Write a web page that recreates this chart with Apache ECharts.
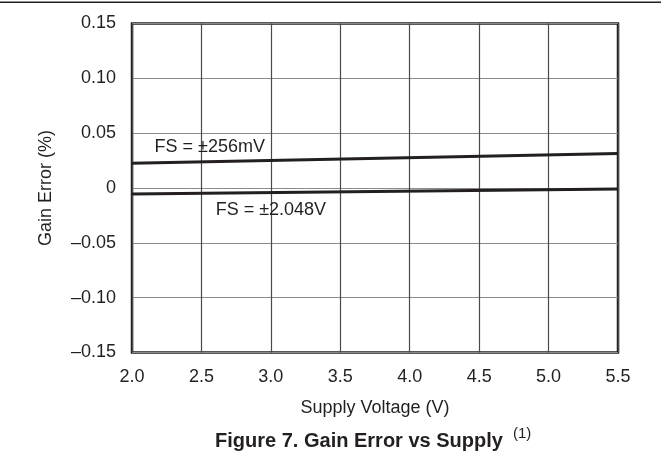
<!DOCTYPE html>
<html>
<head>
<meta charset="utf-8">
<script src="https://cdn.jsdelivr.net/npm/echarts@6/dist/echarts.min.js"></script>
<style>
  html, body { margin: 0; padding: 0; background: #ffffff; }
  #chart { width: 661px; height: 453px; }
</style>
</head>
<body>
<div id="chart"></div>
<script>
// Supply voltage end points (V) and measured gain error (%) for each full-scale range
const supplyVoltage = [2.0, 5.5];
const gainError256mV = [0.0225, 0.0315];
const gainError2048V = [-0.0055, -0.0008];

// Axis ranges and tick spacing
const xRange = { min: 2.0, max: 5.5, step: 0.5 };
const yRange = { min: -0.15, max: 0.15, step: 0.05 };

// Line captions
const seriesNames = ['FS = \u00b1256mV', 'FS = \u00b12.048V'];

const INK = '#231f20';
const FONT = '"Liberation Sans", Arial, Helvetica, sans-serif';
const FS = 18;

function pairs(xs, ys) { return xs.map((x, i) => [x, ys[i]]); }

function yLabel(v) {
  if (Math.abs(v) < 1e-9) return '0';
  const s = Math.abs(v).toFixed(2);
  return v < 0 ? '\u2013' + s : s;
}

const chart = echarts.init(document.getElementById('chart'), null, { renderer: 'canvas' });

function captionPoint(coord, text) {
  return {
    symbol: 'circle',
    symbolSize: 0,
    silent: true,
    label: { show: true, position: 'inside', color: INK, fontFamily: FONT, fontSize: FS },
    data: [{ coord: coord, value: text, label: { formatter: text } }]
  };
}

chart.setOption({
  animation: false,
  backgroundColor: '#ffffff',
  textStyle: { fontFamily: FONT, color: INK },
  grid: {
    left: 132, right: 43, top: 23.5, bottom: 100.5,
    show: true, borderColor: INK, borderWidth: 2.5, backgroundColor: 'transparent'
  },
  xAxis: {
    type: 'value',
    min: xRange.min, max: xRange.max, interval: xRange.step,
    name: 'Supply Voltage (V)',
    nameLocation: 'middle', nameGap: 47,
    nameTextStyle: { color: INK, fontSize: FS, fontFamily: FONT },
    axisLine: { show: false },
    axisTick: { show: false },
    axisLabel: { color: INK, fontSize: FS, fontFamily: FONT, margin: 16,
                 formatter: v => v.toFixed(1) },
    splitLine: { show: true, lineStyle: { color: '#4a4a4a', width: 1.2 } }
  },
  yAxis: {
    type: 'value',
    min: yRange.min, max: yRange.max, interval: yRange.step,
    name: 'Gain Error (%)',
    nameLocation: 'middle', nameGap: 77,
    nameTextStyle: { color: INK, fontSize: FS, fontFamily: FONT },
    axisLine: { show: false },
    axisTick: { show: false },
    axisLabel: { color: INK, fontSize: FS, fontFamily: FONT, margin: 16, formatter: yLabel },
    splitLine: { show: true, lineStyle: { color: '#8a8a8a', width: 1.2 } }
  },
  series: [
    {
      name: seriesNames[0],
      type: 'line',
      data: pairs(supplyVoltage, gainError256mV),
      symbol: 'none',
      lineStyle: { color: INK, width: 3 },
      z: 5,
      markPoint: captionPoint([2.56, 0.037], seriesNames[0])
    },
    {
      name: seriesNames[1],
      type: 'line',
      data: pairs(supplyVoltage, gainError2048V),
      symbol: 'none',
      lineStyle: { color: INK, width: 3 },
      z: 5,
      markPoint: captionPoint([3.0, -0.020], seriesNames[1])
    }
  ],
  graphic: [
    {
      type: 'rect',
      shape: { x: 0, y: 1.5, width: 661, height: 1.6 },
      style: { fill: INK },
      silent: true
    },
    {
      type: 'text',
      x: 359, y: 441,
      style: {
        text: 'Figure 7. Gain Error vs Supply',
        fill: INK, font: 'bold 20px ' + FONT,
        align: 'center', verticalAlign: 'middle'
      },
      silent: true
    },
    {
      type: 'text',
      x: 513, y: 434,
      style: {
        text: '(1)',
        fill: INK, font: '15px ' + FONT,
        align: 'left', verticalAlign: 'middle'
      },
      silent: true
    }
  ]
});
</script>
</body>
</html>
